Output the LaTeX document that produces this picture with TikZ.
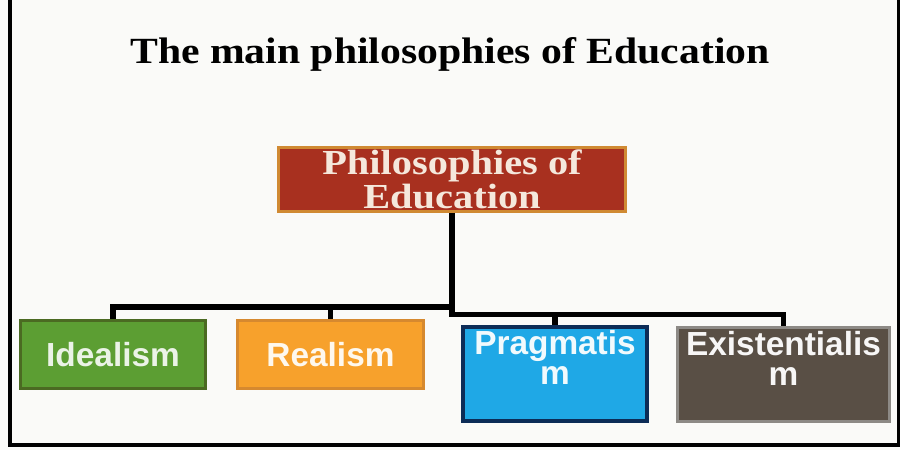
\documentclass[tikz,border=0pt]{standalone}
\usepackage{fontspec}
\newfontfamily\headfont{Liberation Serif}[FakeStretch=1.13]
\newfontfamily\rootfont{Liberation Serif}[FakeStretch=1.15]
\newfontfamily\leaffont{Liberation Sans}
\definecolor{paper}{HTML}{FAFAF8}
\definecolor{rootfill}{HTML}{A8301F}
\definecolor{rootedge}{HTML}{D08A33}
\definecolor{rootink}{HTML}{F5E8DC}
\definecolor{idealfill}{HTML}{5C9E33}
\definecolor{idealedge}{HTML}{4B6A22}
\definecolor{realfill}{HTML}{F7A12C}
\definecolor{realedge}{HTML}{D6892F}
\definecolor{pragfill}{HTML}{1FA8E6}
\definecolor{pragedge}{HTML}{0C2C57}
\definecolor{existfill}{HTML}{594F45}
\definecolor{existedge}{HTML}{8D8A86}

\begin{document}
\begin{tikzpicture}[
 leaf/.style={draw,line width=1.7pt,inner sep=0pt,align=center,minimum height=1.36cm,
   font=\leaffont\bfseries\fontsize{19}{17}\selectfont},
 tall/.style={minimum height=1.88cm,text depth=18.5pt},
 bus/.style={line width=3.4pt}]
\path[use as bounding box,fill=paper] (0,0) rectangle (18,9);
% open frame: no rule along the top edge
\draw[line width=2.3pt] (0.2,9) -- (0.2,0.1) -- (17.99,0.1) -- (17.99,9);
\node[anchor=base,font=\headfont\bfseries\fontsize{21}{24}\selectfont] (title)
  at (9,7.72) {The main philosophies of Education};
\node[draw=rootedge,fill=rootfill,line width=1.7pt,text=rootink,align=center,inner sep=0pt,
  minimum width=6.94cm,minimum height=1.28cm,font=\rootfont\bfseries\fontsize{20}{18}\selectfont]
  (root) at (9.04,5.41) {Philosophies of\\Education};
\node[leaf,draw=idealedge,fill=idealfill,text=white!88!idealfill,minimum width=3.70cm]
  (ideal) at (2.26,1.91) {Idealism};
\node[leaf,draw=realedge,fill=realfill,text=white!92!realfill,minimum width=3.72cm]
  (real) at (6.61,1.91) {Realism};
\node[leaf,tall,draw=pragedge,fill=pragfill,text=white!94!pragfill,line width=2.3pt,minimum width=3.68cm]
  (prag) at (11.1,1.52) {Pragmatis\\m};
\node[leaf,tall,draw=existedge,fill=existfill,text=white!95!existfill,minimum width=4.24cm]
  (exist) at (15.67,1.51) {Existentialis\\m};
\coordinate (lbus) at (9.04,2.86);
\coordinate (rbus) at (9.04,2.71);
\draw[bus] (root.south) -- (rbus) -| (exist.north);
\draw[bus] (lbus) -| (ideal.north);
\draw[bus] (lbus -| real.north) -- (real.north);
\draw[bus] (rbus -| prag.north) -- (prag.north);
\end{tikzpicture}
\end{document}
